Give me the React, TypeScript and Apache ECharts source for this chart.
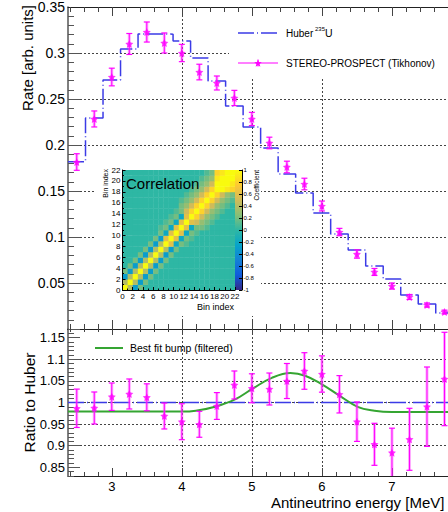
import React, { useEffect, useRef } from "react";
import * as echarts from "echarts";

// ---- data ----
const ENERGY = [2.5, 2.75, 3.0, 3.25, 3.5, 3.75, 4.0, 4.25, 4.5, 4.75, 5.0, 5.25, 5.5, 5.75, 6.0, 6.25, 6.5, 6.75, 7.0, 7.25, 7.5, 7.75];
const BIN_WIDTH = 0.25;
const HUBER = [0.1818, 0.2293, 0.2707, 0.3043, 0.3207, 0.3205, 0.313, 0.2946, 0.2696, 0.2424, 0.2196, 0.1967, 0.1685, 0.1478, 0.1261, 0.1033, 0.0859, 0.0685, 0.0543, 0.037, 0.0272, 0.0174];
const RATE = [0.1815, 0.2283, 0.2739, 0.3098, 0.3228, 0.3109, 0.3, 0.2793, 0.2674, 0.2511, 0.2283, 0.2022, 0.1761, 0.1576, 0.1337, 0.1054, 0.0815, 0.062, 0.0467, 0.0348, 0.0261, 0.0185];
const RATE_ERR = [0.009, 0.0087, 0.0096, 0.0114, 0.0109, 0.0109, 0.0094, 0.0085, 0.0076, 0.0083, 0.0072, 0.0063, 0.0063, 0.0063, 0.0054, 0.004, 0.0045, 0.0038, 0.0033, 0.0027, 0.0022, 0.002];
const RATIO = [0.9866, 0.9873, 1.0134, 1.0197, 1.012, 0.9688, 0.9556, 0.9496, 0.9919, 1.0405, 1.0329, 1.0312, 1.0497, 1.0729, 1.0659, 1.019, 0.9556, 0.9033, 0.8839, 0.9149, 0.9903, 1.0544];
const RATIO_ERR = [0.0444, 0.037, 0.0317, 0.0347, 0.0312, 0.03, 0.0416, 0.03, 0.031, 0.0324, 0.0335, 0.037, 0.0405, 0.0423, 0.042, 0.0432, 0.0456, 0.0486, 0.0567, 0.0717, 0.0918, 0.108];
const BUMP_E = [2.375, 3.0, 3.5, 4.0, 4.2, 4.475, 4.76, 5.02, 5.285, 5.55, 5.76, 6.0, 6.24, 6.51, 6.75, 7.0, 7.4, 7.8];
const BUMP_R = [0.979, 0.979, 0.979, 0.979, 0.981, 0.99, 1.007, 1.033, 1.057, 1.068, 1.062, 1.042, 1.017, 0.99, 0.981, 0.978, 0.978, 0.978];

const X_MAJOR = [3, 4, 5, 6, 7];
const X_MINOR = [2.4, 2.6, 2.8, 3.2, 3.4, 3.6, 3.8, 4.2, 4.4, 4.6, 4.8, 5.2, 5.4, 5.6, 5.8, 6.2, 6.4, 6.6, 6.8, 7.2, 7.4, 7.6];
const RATIO_TICKS = [0.85, 0.9, 0.95, 1, 1.05, 1.1, 1.15];

// correlation matrix, row 0 = bin 0 (bottom). codes: Y=1, digits=tenths, a..e = -0.1..-0.5
const CORR_ROWS = [
  "Y4c2000000000000000000",
  "4Y4c200000000000000000",
  "c4Y4c20000000000000000",
  "2c4Y4c2000000000000000",
  "02c4Y4c200000000000000",
  "002c4Y4c20000000000000",
  "0002c4Y4c2000000000000",
  "00002c4Y4c200000000000",
  "000002c4Y6b21000000000",
  "0000002c6Y6b2100000000",
  "00000002b6Y6b210000000",
  "000000012b6Y6b22100000",
  "0000000012b6Y653210000",
  "00000000012b6Y85321000",
  "00000000001258Y8532100",
  "000000000002358Y853210",
  "0000000000012358Y85321",
  "00000000000012358Y8532",
  "000000000000012358YY98",
  "000000000000001235YYY9",
  "0000000000000001239YYY",
  "00000000000000001289YY",
];
const CORR_CODE: Record<string, number> = {
  Y: 1, "9": 0.9, "8": 0.8, "7": 0.7, "6": 0.6, "5": 0.5, "4": 0.4, "3": 0.3, "2": 0.2, "1": 0.1, "0": 0,
  a: -0.1, b: -0.2, c: -0.3, d: -0.4, e: -0.5,
};
const BIRD = ["#352a87", "#0f5cdd", "#1481d6", "#06a4ca", "#2eb7a4", "#87bf77", "#d1bb59", "#fec832", "#f9fb0e"];

const FONT = "'Liberation Sans', Arial, Helvetica, sans-serif";
const XMIN = 2.375;
const XMAX = 7.8;
const HUBER_COLOR = "#3b3be6";
const DASH = [16, 3, 1, 3];
const STAR = "path://M0,-10L2.94,-4.05L9.51,-3.09L4.76,1.55L5.88,8.09L0,5L-5.88,8.09L-4.76,1.55L-9.51,-3.09L-2.94,-4.05Z";
const GRIDLINE = { show: true, showMinLine: false, showMaxLine: false, lineStyle: { color: "#444", width: 1, type: [2, 2] } };

function xAx(gridIndex: number, position: string, ticks: number[], length: number, line: boolean, extra: any = {}) {
  return {
    type: "value", gridIndex, position, min: XMIN, max: XMAX,
    axisLine: { show: line, onZero: false, lineStyle: { color: "#222", width: 1 } },
    axisTick: { show: true, inside: true, length, customValues: ticks, lineStyle: { color: "#444", width: 1 } },
    axisLabel: extra.axisLabel || { show: false },
    splitLine: extra.splitLine || { show: false },
    z: extra.z || 0,
  };
}

function errRender(params: any, api: any) {
  const x = api.value(0), y = api.value(1), e = api.value(2);
  const t = api.coord([x, y + e]);
  const b = api.coord([x, y - e]);
  const c = 3;
  return {
    type: "group",
    children: [
      { type: "line", shape: { x1: t[0], y1: t[1], x2: b[0], y2: b[1] }, style: { stroke: "rgba(255,70,255,0.45)", lineWidth: 3 } },
      { type: "line", shape: { x1: t[0], y1: t[1], x2: b[0], y2: b[1] }, style: { stroke: "#ff00ff", lineWidth: 1 } },
      { type: "line", shape: { x1: t[0] - c, y1: t[1], x2: t[0] + c, y2: t[1] }, style: { stroke: "#ff00ff", lineWidth: 1.2 } },
      { type: "line", shape: { x1: b[0] - c, y1: b[1], x2: b[0] + c, y2: b[1] }, style: { stroke: "#ff00ff", lineWidth: 1.2 } },
    ],
  };
}

function starPoints(cx: number, cy: number, R: number, r: number) {
  const pts: number[][] = [];
  for (let k = 0; k < 10; k++) {
    const a = -Math.PI / 2 + (k * Math.PI) / 5;
    const rr = k % 2 === 0 ? R : r;
    pts.push([cx + rr * Math.cos(a), cy + rr * Math.sin(a)]);
  }
  return pts;
}

function txt(text: string, x: number, y: number, size: number, align = "left", rotation = 0) {
  return {
    type: "text", x, y, rotation, z: 20,
    style: { text, fontSize: size, fontFamily: FONT, fill: "#000", align, verticalAlign: "middle" },
  };
}

function buildOption() {
  const hubStep = HUBER.map((v, i) => [ENERGY[i] - BIN_WIDTH / 2, v]);
  hubStep.push([ENERGY[ENERGY.length - 1] + BIN_WIDTH / 2, HUBER[HUBER.length - 1]]);
  const hubRatio = HUBER.map((v, i) => [ENERGY[i] - BIN_WIDTH / 2, v / v]);
  hubRatio.push([ENERGY[ENERGY.length - 1] + BIN_WIDTH / 2, 1]);
  const rateErr = ENERGY.map((e, i) => [e, RATE[i], RATE_ERR[i]]);
  const ratioErr = ENERGY.map((e, i) => [e, RATIO[i], RATIO_ERR[i]]);
  const cells: number[][] = [];
  CORR_ROWS.forEach((row, j) => row.split("").forEach((ch, i) => cells.push([i, j, CORR_CODE[ch]])));

  return {
    animation: false,
    backgroundColor: "#fff",
    textStyle: { fontFamily: FONT },
    grid: [
      { left: 68, top: 7, width: 380, height: 322 },
      { left: 68, top: 329, width: 380, height: 147 },
      { left: 122.5, top: 170, width: 112.5, height: 120 },
      { left: 235, top: 170, width: 7, height: 120 },
    ],
    visualMap: [
      { type: "continuous", show: false, min: -1, max: 1, dimension: 2, seriesIndex: 7, inRange: { color: BIRD } },
    ],
    xAxis: [
      xAx(0, "bottom", X_MAJOR, 9, true, { splitLine: GRIDLINE }),
      xAx(0, "bottom", X_MINOR, 5, false),
      xAx(0, "top", X_MAJOR, 9, true, { z: 6 }),
      xAx(0, "top", X_MINOR, 5, false, { z: 6 }),
      xAx(1, "bottom", X_MAJOR, 8, true, {
        splitLine: GRIDLINE,
        axisLabel: { show: true, customValues: X_MAJOR, fontSize: 13, color: "#000", margin: 4, fontFamily: FONT },
      }),
      xAx(1, "bottom", X_MINOR, 4, false),
      xAx(1, "top", X_MAJOR, 6, true),
      xAx(1, "top", X_MINOR, 3, false),
      {
        type: "value", gridIndex: 2, position: "bottom", min: 0, max: 22, interval: 2, z: 12,
        axisLine: { show: true, onZero: false, lineStyle: { color: "#000", width: 1 } },
        axisTick: { show: true, inside: true, length: 3, lineStyle: { color: "#000" } },
        minorTick: { show: true, splitNumber: 2, length: 1.5, lineStyle: { color: "#000" } },
        axisLabel: { fontSize: 8, margin: 2, color: "#000", fontFamily: FONT },
        splitLine: { show: false },
      },
      { type: "value", gridIndex: 3, min: 0, max: 1, show: false },
    ],
    yAxis: [
      {
        type: "value", gridIndex: 0, position: "left", min: 0, max: 0.35, interval: 0.05,
        axisLine: { show: true, onZero: false, lineStyle: { color: "#555", width: 1.5 } },
        axisTick: { show: true, inside: true, length: 12, lineStyle: { color: "#555" } },
        minorTick: { show: true, splitNumber: 5, length: 6, lineStyle: { color: "#555" } },
        axisLabel: { fontSize: 14, margin: 3, color: "#000", showMinLabel: false, fontFamily: FONT },
        splitLine: GRIDLINE,
      },
      {
        type: "value", gridIndex: 1, position: "left", min: 0.83, max: 1.17,
        axisLine: { show: true, onZero: false, lineStyle: { color: "#555", width: 1.5 } },
        axisTick: { show: true, inside: true, length: 12, customValues: RATIO_TICKS, lineStyle: { color: "#555" } },
        axisLabel: { customValues: RATIO_TICKS, fontSize: 13, margin: 3, color: "#000", fontFamily: FONT },
        splitLine: GRIDLINE,
      },
      {
        type: "value", gridIndex: 1, position: "left", min: 0.83, max: 1.17, interval: 0.01,
        axisLine: { show: false, onZero: false },
        axisTick: { show: true, inside: true, length: 6, lineStyle: { color: "#555" } },
        axisLabel: { show: false },
        splitLine: { show: false },
      },
      {
        type: "value", gridIndex: 2, position: "left", min: 0, max: 22, interval: 2, z: 12,
        axisLine: { show: true, onZero: false, lineStyle: { color: "#000", width: 1 } },
        axisTick: { show: true, inside: true, length: 3, lineStyle: { color: "#000" } },
        minorTick: { show: true, splitNumber: 2, length: 1.5, lineStyle: { color: "#000" } },
        axisLabel: { fontSize: 8, margin: 2, color: "#000", fontFamily: FONT },
        splitLine: { show: false },
      },
      {
        type: "value", gridIndex: 3, position: "right", min: -1, max: 1, interval: 0.2, z: 12,
        axisLine: { show: true, onZero: false, lineStyle: { color: "#000", width: 1 } },
        axisTick: { show: true, inside: true, length: 3, lineStyle: { color: "#000" } },
        axisLabel: { fontSize: 6, margin: 1.5, color: "#000", fontFamily: FONT },
        splitLine: { show: false },
      },
    ],
    series: [
      {
        type: "line", xAxisIndex: 0, yAxisIndex: 0, data: hubStep, step: "end", symbol: "none", silent: true, z: 3,
        lineStyle: { color: HUBER_COLOR, width: 1.5, type: DASH },
      },
      { type: "custom", xAxisIndex: 0, yAxisIndex: 0, data: rateErr, renderItem: errRender, clip: true, z: 4, silent: true },
      {
        type: "scatter", xAxisIndex: 0, yAxisIndex: 0, data: ENERGY.map((e, i) => [e, RATE[i]]),
        symbol: STAR, symbolSize: 8, itemStyle: { color: "#ff00ff" }, z: 5, silent: true,
      },
      {
        type: "line", xAxisIndex: 4, yAxisIndex: 1, data: hubRatio, step: "end", symbol: "none", silent: true, z: 3,
        lineStyle: { color: HUBER_COLOR, width: 1.5, type: DASH },
      },
      {
        type: "line", xAxisIndex: 4, yAxisIndex: 1, data: BUMP_E.map((e, i) => [e, BUMP_R[i]]), smooth: 0.4,
        symbol: "none", silent: true, z: 3, lineStyle: { color: "#35a532", width: 2 },
      },
      { type: "custom", xAxisIndex: 4, yAxisIndex: 1, data: ratioErr, renderItem: errRender, clip: true, z: 4, silent: true },
      {
        type: "scatter", xAxisIndex: 4, yAxisIndex: 1, data: ENERGY.map((e, i) => [e, RATIO[i]]),
        symbol: STAR, symbolSize: 8, itemStyle: { color: "#ff00ff" }, z: 5, silent: true,
      },
      {
        type: "custom", xAxisIndex: 8, yAxisIndex: 3, data: cells, z: 10, silent: true,
        renderItem: (params: any, api: any) => {
          const i = api.value(0), j = api.value(1);
          const p0 = api.coord([i, j + 1]);
          const p1 = api.coord([i + 1, j]);
          return {
            type: "rect",
            shape: { x: p0[0], y: p0[1], width: p1[0] - p0[0] + 0.4, height: p1[1] - p0[1] + 0.4 },
            style: { fill: api.visual("color") },
          };
        },
      },
      {
        type: "custom", xAxisIndex: 9, yAxisIndex: 4, data: [[0.5, 0]], z: 10, silent: true,
        renderItem: (params: any, api: any) => {
          const p0 = api.coord([0, 1]);
          const p1 = api.coord([1, -1]);
          return {
            type: "rect",
            shape: { x: p0[0], y: p0[1], width: p1[0] - p0[0], height: p1[1] - p0[1] },
            style: {
              fill: new echarts.graphic.LinearGradient(0, 1, 0, 0, BIRD.map((c, k) => ({ offset: k / (BIRD.length - 1), color: c }))),
            },
          };
        },
      },
    ],
    graphic: {
      elements: [
        { type: "rect", shape: { x: 95, y: 160, width: 166, height: 156 }, style: { fill: "#fff" }, z: 5 },
        { type: "rect", shape: { x: 229, y: 9, width: 219, height: 70 }, style: { fill: "#fff" }, z: 5 },
        { type: "line", shape: { x1: 238, y1: 33, x2: 278, y2: 33 }, style: { stroke: HUBER_COLOR, lineWidth: 1.5, lineDash: DASH }, z: 20 },
        txt("Huber", 286, 33, 10),
        txt("235", 315, 28.5, 6),
        txt("U", 325, 33, 10.5),
        { type: "line", shape: { x1: 238, y1: 63, x2: 278, y2: 63 }, style: { stroke: "#ff00ff", lineWidth: 1.2 }, z: 20 },
        { type: "line", shape: { x1: 258, y1: 59.5, x2: 258, y2: 66.5 }, style: { stroke: "#ff00ff", lineWidth: 1 }, z: 20 },
        { type: "polygon", shape: { points: starPoints(258, 63.5, 4, 1.7) }, style: { fill: "#ff00ff" }, z: 21 },
        txt("STEREO-PROSPECT (Tikhonov)", 286, 63, 10),
        { type: "line", shape: { x1: 95, y1: 348, x2: 123, y2: 348 }, style: { stroke: "#35a532", lineWidth: 2 }, z: 20 },
        txt("Best fit bump (filtered)", 130, 348, 10.5),
        txt("Correlation", 126, 183, 15),
        txt("Bin index", 105, 169, 7, "right", Math.PI / 2),
        txt("Bin index", 234, 307, 9, "right"),
        txt("Coefficient", 256, 170, 6.5, "right", Math.PI / 2),
        txt("Rate [arb. units]", 27, 5, 15, "right", Math.PI / 2),
        txt("Ratio to Huber", 29, 402.5, 15.5, "center", Math.PI / 2),
        txt("Antineutrino energy [MeV]", 271, 502, 15),
      ],
    },
  };
}

export default function App() {
  const ref = useRef<HTMLDivElement>(null);
  useEffect(() => {
    const chart = echarts.init(ref.current as HTMLDivElement, undefined, { renderer: "svg" });
    chart.setOption(buildOption() as any);
    return () => chart.dispose();
  }, []);
  return (
    <div
      ref={ref}
      style={{ position: "fixed", left: 0, top: 0, width: 448, height: 512, background: "#fff" }}
    />
  );
}
